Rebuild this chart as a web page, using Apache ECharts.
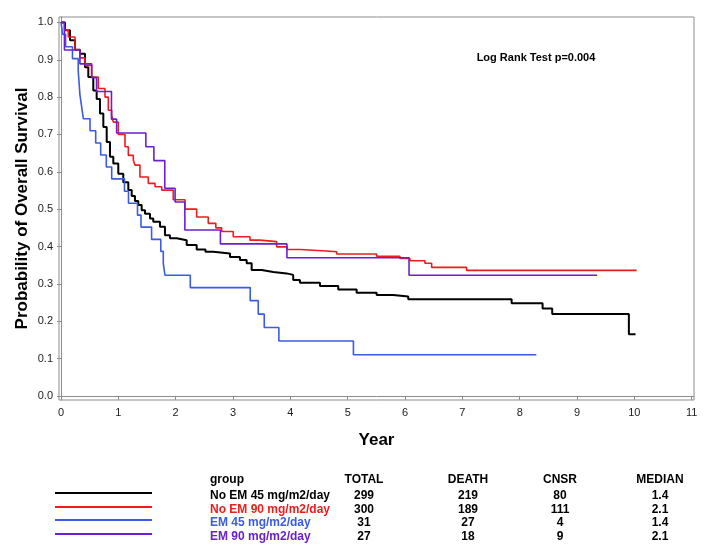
<!DOCTYPE html>
<html>
<head>
<meta charset="utf-8">
<script src="https://cdn.jsdelivr.net/npm/echarts@6/dist/echarts.min.js"></script>
<style>
html,body{margin:0;padding:0;background:#fff;}
#chart{width:705px;height:558px;}
</style>
</head>
<body>
<div id="chart"></div>
<script>
// ---- data ----
const groupNames = ['No EM 45 mg/m2/day', 'No EM 90 mg/m2/day', 'EM 45 mg/m2/day', 'EM 90 mg/m2/day'];
const groupColors = ['#000000', '#ee1c1c', '#3b5ae6', '#6a1fd4'];
const totals = [299, 300, 31, 27];
const deaths = [219, 189, 27, 18];
const censored = [80, 111, 4, 9];
const medians = ['1.4', '2.1', '1.4', '2.1'];
const xTicks = [0,1,2,3,4,5,6,7,8,9,10,11];
const yTicks = [0,0.1,0.2,0.3,0.4,0.5,0.6,0.7,0.8,0.9,1.0];
const logRankText = 'Log Rank Test p=0.004';

// [year, survival] : survival becomes value at that year
const noEM45 = [
 [0,1.0],[0.07,0.979],[0.157,0.952],[0.244,0.927],[0.331,0.916],[0.418,0.88],[0.476,0.854],
 [0.563,0.818],[0.622,0.795],[0.68,0.756],[0.738,0.72],[0.797,0.68],[0.854,0.64],[0.912,0.622],
 [0.999,0.595],[1.086,0.572],[1.174,0.551],[1.233,0.535],[1.29,0.522],[1.348,0.511],[1.407,0.497],
 [1.465,0.488],[1.552,0.475],[1.609,0.466],[1.726,0.453],[1.813,0.43],[1.90,0.422],[2.017,0.417],
 [2.192,0.404],[2.366,0.392],[2.52,0.386],[2.656,0.381],[2.947,0.372],[3.121,0.364],[3.238,0.355],
 [3.325,0.337],[3.50,0.332],[3.702,0.328],[3.936,0.324],[4.05,0.31],[4.167,0.303],[4.516,0.294],
 [4.835,0.285],[5.156,0.276],[5.505,0.27],[5.794,0.266],[6.056,0.259],[7.859,0.248],[8.399,0.234],
 [8.567,0.219],[9.904,0.165],[10.02,0.165]
];
const noEM90 = [
 [0,1.0],[0.06,0.98],[0.127,0.961],[0.244,0.927],[0.33,0.905],[0.418,0.885],[0.535,0.854],
 [0.65,0.823],[0.767,0.80],[0.825,0.765],[0.884,0.751],[0.912,0.733],[0.999,0.70],[1.116,0.667],
 [1.174,0.644],[1.261,0.631],[1.29,0.618],[1.377,0.586],[1.522,0.569],[1.64,0.56],[1.756,0.551],
 [1.958,0.525],[2.162,0.50],[2.366,0.479],[2.568,0.462],[2.70,0.45],[2.802,0.44],[3.004,0.426],
 [3.296,0.417],[3.47,0.413],[3.761,0.399],[3.946,0.392],[4.167,0.388],[4.633,0.386],[4.807,0.38],
 [5.505,0.374],[5.911,0.368],[6.085,0.362],[6.347,0.355],[6.464,0.344],[7.074,0.336],[10.04,0.336]
];
const em45 = [
 [0,1.0],[0.03,0.968],[0.08,0.935],[0.2,0.903],[0.3,0.871],[0.33,0.806],[0.36,0.774],[0.39,0.742],
 [0.506,0.710],[0.605,0.677],[0.692,0.645],[0.79,0.613],[0.884,0.581],[1.107,0.548],[1.177,0.516],
 [1.334,0.484],[1.395,0.452],[1.58,0.419],[1.74,0.387],[1.784,0.355],[1.813,0.323],[2.255,0.290],
 [3.30,0.255],[3.44,0.219],[3.545,0.183],[3.80,0.147],[5.10,0.110],[8.29,0.110]
];
const em90 = [
 [0,1.0],[0.06,0.926],[0.33,0.889],[0.535,0.852],[0.62,0.815],[0.88,0.741],[0.97,0.704],
 [1.48,0.667],[1.62,0.630],[1.81,0.556],[1.99,0.519],[2.16,0.444],[2.78,0.407],[3.94,0.370],
 [6.07,0.323],[9.35,0.323]
];
const curves = [noEM45, noEM90, em45, em90];
const lineWidths = [2, 1.6, 1.6, 1.6];

// ---- chart ----
const FONT = '"Liberation Sans", Arial, sans-serif';
const chart = echarts.init(document.getElementById('chart'), null, {renderer: 'canvas'});

const series = curves.map((d, i) => ({
  name: groupNames[i],
  type: 'line',
  step: 'end',
  data: d,
  showSymbol: false,
  symbol: 'none',
  silent: true,
  animation: false,
  lineStyle: {color: groupColors[i], width: lineWidths[i]},
  itemStyle: {color: groupColors[i]},
  z: 2 + i
}));

// legend / summary table as graphics
const tableX = {line0: 55, line1: 152, group: 210, total: 364, death: 468, cnsr: 560, median: 660};
const headerY = 480;
const rowY = [496, 510, 523, 537];
const graphics = [];
const bold12 = 'bold 12px ' + FONT;
function txt(x, y, s, color, align) {
  graphics.push({type: 'text', x: x, y: y, silent: true,
    style: {text: s, fill: color, font: bold12, textAlign: align || 'left', textVerticalAlign: 'middle'}});
}
txt(tableX.group, headerY, 'group', '#000');
txt(tableX.total, headerY, 'TOTAL', '#000', 'center');
txt(tableX.death, headerY, 'DEATH', '#000', 'center');
txt(tableX.cnsr, headerY, 'CNSR', '#000', 'center');
txt(tableX.median, headerY, 'MEDIAN', '#000', 'center');
groupNames.forEach((g, i) => {
  graphics.push({type: 'line', silent: true,
    shape: {x1: tableX.line0, y1: rowY[i] - 3, x2: tableX.line1, y2: rowY[i] - 3},
    style: {stroke: groupColors[i], lineWidth: 2}});
  txt(tableX.group, rowY[i], g, groupColors[i]);
  txt(tableX.total, rowY[i], String(totals[i]), '#000', 'center');
  txt(tableX.death, rowY[i], String(deaths[i]), '#000', 'center');
  txt(tableX.cnsr, rowY[i], String(censored[i]), '#000', 'center');
  txt(tableX.median, rowY[i], medians[i], '#000', 'center');
});
graphics.push({type: 'text', x: 536, y: 58, silent: true,
  style: {text: logRankText, fill: '#000', font: 'bold 11px ' + FONT, textAlign: 'center', textVerticalAlign: 'middle'}});

const axisColor = '#8c8c8c';
chart.setOption({
  animation: false,
  backgroundColor: '#fff',
  grid: {left: 59, right: 11, top: 17, bottom: 158, show: true, borderColor: axisColor, borderWidth: 1, containLabel: false},
  xAxis: {
    type: 'value', min: -0.035, max: 11.04,
    name: 'Year', nameLocation: 'middle', nameGap: 32, nameMoveOverlap: false,
    nameTextStyle: {fontFamily: FONT, fontWeight: 'bold', fontSize: 17, color: '#000'},
    axisLine: {show: true, lineStyle: {color: axisColor, width: 1}},
    axisTick: {show: true, length: 4, lineStyle: {color: axisColor}, customValues: xTicks},
    axisLabel: {customValues: xTicks, fontFamily: FONT, fontSize: 11, color: '#222', margin: 7,
      formatter: v => String(Math.round(v))},
    splitLine: {show: false}
  },
  yAxis: {
    type: 'value', min: -0.011, max: 1.0145,
    name: 'Probability of Overall Survival', nameLocation: 'middle', nameGap: 28, nameRotate: 90,
    nameMoveOverlap: false,
    nameTextStyle: {fontFamily: FONT, fontWeight: 'bold', fontSize: 17, color: '#000'},
    axisLine: {show: true, lineStyle: {color: axisColor, width: 1}},
    axisTick: {show: true, length: 4, lineStyle: {color: axisColor}, customValues: yTicks},
    axisLabel: {customValues: yTicks, fontFamily: FONT, fontSize: 11, color: '#222', margin: 6,
      formatter: v => v.toFixed(1)},
    splitLine: {show: false}
  },
  series: series,
  graphic: graphics
});
</script>
</body>
</html>
